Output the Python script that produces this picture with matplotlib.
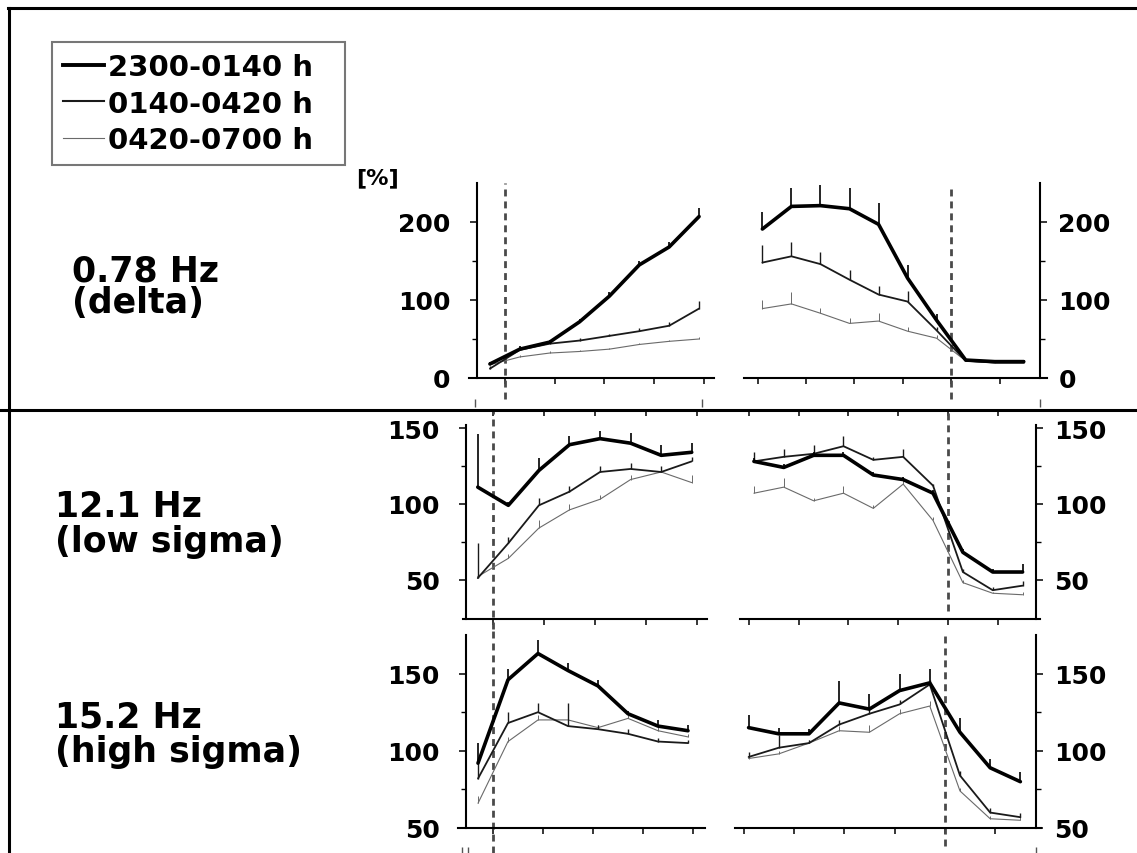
import matplotlib
matplotlib.use('Agg')
import matplotlib.pyplot as plt
from matplotlib.lines import Line2D

W, H = 1137, 854
plt.rcParams['font.family'] = ['DejaVu Sans']
plt.rcParams['font.weight'] = 'bold'

# ---------------- data ----------------
periods = ['2300-0140 h', '0140-0420 h', '0420-0700 h']
band_freqs = ['0.78 Hz', '12.1 Hz', '15.2 Hz']
band_names = ['(delta)', '(low sigma)', '(high sigma)']

x_left = [-0.3, 0.3, 0.9, 1.5, 2.1, 2.7, 3.3, 3.9]
x_right = [-3.9, -3.3, -2.7, -2.1, -1.5, -0.9, -0.3, 0.3, 0.9, 1.5]
ticks_left = [0, 1, 2, 3, 4]
ticks_right = [-4, -3, -2, -1, 0, 1]

# delta 0.78 Hz
delta_left_p1 = [18, 37, 46, 72, 105, 145, 168, 207]
delta_left_p2 = [12, 36, 44, 48, 54, 60, 67, 89]
delta_left_p3 = [17, 27, 32, 34, 37, 43, 47, 50]
delta_left_e1 = [3, 4, 3, 4, 5, 5, 6, 11]
delta_left_e2 = [3, 3, 3, 3, 3, 4, 5, 10]
delta_left_e3 = [2, 2, 2, 2, 2, 2, 2, 3]
delta_right_p1 = [191, 220, 221, 217, 197, 128, 74, 23, 21, 21]
delta_right_p2 = [148, 156, 146, 126, 107, 98, 61, 22, 20, 20]
delta_right_p3 = [89, 95, 83, 70, 73, 60, 51, 22, 19, 19]
delta_right_e1 = [22, 24, 26, 26, 27, 17, 8, 2, 2, 2]
delta_right_e2 = [22, 18, 16, 13, 11, 13, 5, 2, 1, 1]
delta_right_e3 = [11, 15, 7, 7, 10, 6, 4, 1, 1, 1]

# low sigma 12.1 Hz
lsig_left_p1 = [111, 99, 122, 139, 143, 140, 132, 134]
lsig_left_p2 = [51, 74, 99, 108, 121, 123, 121, 128]
lsig_left_p3 = [52, 64, 84, 96, 103, 116, 121, 114]
lsig_left_e1 = [35, 2, 8, 6, 5, 7, 7, 6]
lsig_left_e2 = [23, 4, 5, 4, 4, 4, 4, 3]
lsig_left_e3 = [3, 3, 5, 4, 3, 3, 3, 5]
lsig_right_p1 = [128, 124, 132, 132, 119, 116, 107, 68, 55, 55]
lsig_right_p2 = [128, 131, 133, 138, 129, 131, 112, 55, 43, 46]
lsig_right_p3 = [107, 111, 102, 107, 97, 113, 89, 48, 41, 40]
lsig_right_e1 = [2, 2, 2, 2, 2, 2, 2, 2, 2, 5]
lsig_right_e2 = [6, 5, 6, 7, 2, 5, 1, 2, 2, 3]
lsig_right_e3 = [5, 6, 2, 5, 2, 5, 2, 2, 1, 2]

# high sigma 15.2 Hz
hsig_left_p1 = [92, 146, 163, 152, 142, 124, 116, 113]
hsig_left_p2 = [82, 118, 125, 116, 114, 111, 106, 105]
hsig_left_p3 = [66, 106, 120, 120, 115, 121, 113, 109]
hsig_left_e1 = [13, 7, 9, 5, 4, 2, 4, 4]
hsig_left_e2 = [10, 7, 6, 15, 3, 3, 2, 2]
hsig_left_e3 = [5, 3, 3, 3, 2, 2, 3, 2]
hsig_right_p1 = [115, 111, 111, 131, 127, 139, 144, 112, 89, 80]
hsig_right_p2 = [96, 102, 105, 117, 124, 130, 143, 84, 60, 57]
hsig_right_p3 = [95, 98, 105, 113, 112, 124, 129, 74, 56, 55]
hsig_right_e1 = [8, 4, 3, 14, 10, 11, 9, 9, 6, 6]
hsig_right_e2 = [3, 8, 2, 3, 3, 3, 3, 3, 3, 3]
hsig_right_e3 = [2, 2, 2, 3, 5, 3, 3, 2, 2, 2]

yticks_major = [[0, 100, 200], [50, 100, 150], [50, 100, 150]]
yticks_minor = [[50, 150], [75, 125], [75, 125]]

# ---------------- styles / layout ----------------
styles = [dict(color='black', lw=2.6, elw=1.2),
          dict(color='#1a1a1a', lw=1.3, elw=1.0),
          dict(color='#6a6a6a', lw=0.8, elw=0.7)]

# (left, top, right, bottom) px, xlim, spine x, ylim, dashed (ymin,ymax)
layout = {
    (0, 'L'): dict(box=(469, 184, 714, 379), xlim=(-0.72, 4.2), sx=-0.56, ylim=(0, 250), dash=(-0.108, 1.0)),
    (0, 'R'): dict(box=(744, 184, 1047, 379), xlim=(-4.28, 1.98), sx=1.84, ylim=(0, 250), dash=(-0.108, 0.995)),
    (1, 'L'): dict(box=(463, 426, 707, 620), xlim=(-0.59, 4.2), sx=-0.53, ylim=(24, 152), dash=(-0.052, 1.072)),
    (1, 'R'): dict(box=(740, 426, 1040, 620), xlim=(-4.18, 1.85), sx=1.77, ylim=(24, 152), dash=(0.04, 1.072)),
    (2, 'L'): dict(box=(458, 636, 705, 829), xlim=(-0.70, 4.24), sx=-0.54, ylim=(50, 175), dash=(-0.13, 1.03)),
    (2, 'R'): dict(box=(735, 636, 1041, 829), xlim=(-4.17, 1.91), sx=1.81, ylim=(50, 175), dash=(-0.093, 0.995)),
}

data = {
    (0, 'L'): ([delta_left_p1, delta_left_p2, delta_left_p3], [delta_left_e1, delta_left_e2, delta_left_e3]),
    (0, 'R'): ([delta_right_p1, delta_right_p2, delta_right_p3], [delta_right_e1, delta_right_e2, delta_right_e3]),
    (1, 'L'): ([lsig_left_p1, lsig_left_p2, lsig_left_p3], [lsig_left_e1, lsig_left_e2, lsig_left_e3]),
    (1, 'R'): ([lsig_right_p1, lsig_right_p2, lsig_right_p3], [lsig_right_e1, lsig_right_e2, lsig_right_e3]),
    (2, 'L'): ([hsig_left_p1, hsig_left_p2, hsig_left_p3], [hsig_left_e1, hsig_left_e2, hsig_left_e3]),
    (2, 'R'): ([hsig_right_p1, hsig_right_p2, hsig_right_p3], [hsig_right_e1, hsig_right_e2, hsig_right_e3]),
}

fig = plt.figure(figsize=(W / 100, H / 100), dpi=100)
fig.patch.set_facecolor('white')


def add_ax(box):
    l, t, r, b = box
    return fig.add_axes([l / W, 1 - b / H, (r - l) / W, (b - t) / H])


for (row, side), spec in layout.items():
    ax = add_ax(spec['box'])
    ax.set_facecolor('none')
    xs = x_left if side == 'L' else x_right
    series, errs = data[(row, side)]
    for k in [2, 1, 0]:
        st = styles[k]
        ax.errorbar(xs, series[k], yerr=[[0] * len(xs), errs[k]], color=st['color'],
                    lw=st['lw'], elinewidth=st['elw'], capsize=0, clip_on=False,
                    solid_joinstyle='round', solid_capstyle='round', zorder=3 + (2 - k))
    ax.set_xlim(*spec['xlim'])
    ax.set_ylim(*spec['ylim'])
    ax.axvline(0, ymin=spec['dash'][0], ymax=spec['dash'][1], color='#4a4a4a', lw=2.0,
               ls=(0, (2.5, 1.8)), clip_on=False, zorder=2)
    ax.spines['top'].set_visible(False)
    if side == 'L':
        ax.spines['right'].set_visible(False)
        ax.spines['left'].set_position(('data', spec['sx']))
        ax.yaxis.tick_left()
        ypad = 14
    else:
        ax.spines['left'].set_visible(False)
        ax.spines['right'].set_position(('data', spec['sx']))
        ax.yaxis.tick_right()
        ypad = 8
    for s in ax.spines.values():
        s.set_linewidth(1.5)
    ax.set_xticks(ticks_left if side == 'L' else ticks_right)
    ax.tick_params(axis='x', labelbottom=False, length=4, width=1.1, direction='out')
    ax.set_yticks(yticks_major[row])
    ax.set_yticks(yticks_minor[row], minor=True)
    ax.tick_params(axis='y', which='major', labelsize=18, pad=ypad, length=5, width=1.1,
                   direction='out')
    ax.tick_params(axis='y', which='minor', length=3.5, width=1.0, direction='out')
    for lab in ax.get_yticklabels():
        lab.set_fontweight('bold')

    b = spec['box']
    hpx = b[3] - b[1]
    # scan artefact tick fragments
    if row == 1:
        sec = ax.secondary_xaxis((b[3] - 411) / hpx)
        sec.set_xticks(ticks_left if side == 'L' else ticks_right)
        sec.tick_params(direction='in', length=4, width=1.1, labeltop=False, labelbottom=False)
        for s in sec.spines.values():
            s.set_visible(False)
    if row == 0:
        sec = ax.secondary_xaxis((b[3] - 404) / hpx)
        sec.set_xticks([-0.6, 3.95] if side == 'L' else [1.84])
        sec.tick_params(direction='inout', length=6, width=1.0, labeltop=False, labelbottom=False,
                        color='#555555')
        for s in sec.spines.values():
            s.set_visible(False)
    if row == 2:
        sec = ax.secondary_xaxis((b[3] - 851) / hpx)
        sec.set_xticks([-0.62, -0.5] if side == 'L' else [1.81])
        sec.tick_params(direction='inout', length=4, width=1.0, labeltop=False, labelbottom=False,
                        color='#555555')
        for s in sec.spines.values():
            s.set_visible(False)

# frame lines of the scanned page
fig.add_artist(Line2D([8 / W, 1], [1 - 9 / H, 1 - 9 / H], transform=fig.transFigure, color='black', lw=2.2))
fig.add_artist(Line2D([9 / W, 9 / W], [1 - 9 / H, 0], transform=fig.transFigure, color='black', lw=2.2))
fig.add_artist(Line2D([0, 1], [1 - 411 / H, 1 - 411 / H], transform=fig.transFigure, color='black', lw=2.2))

# row labels
label_pos = [(72, 282, 313), (55, 517, 552), (55, 728, 762)]
for (x0, y1, y2), f, n in zip(label_pos, band_freqs, band_names):
    fig.text(x0 / W, 1 - y1 / H, f, fontsize=25, fontweight='bold', va='baseline', ha='left')
    fig.text(x0 / W, 1 - y2 / H, n, fontsize=25, fontweight='bold', va='baseline', ha='left')

fig.text(377 / W, 1 - 178 / H, '[%]', fontsize=16, fontweight='bold', ha='center', va='center')

# legend
handles = [Line2D([], [], color=st['color'], lw=[2.8, 1.5, 0.8][i]) for i, st in enumerate(styles)]
leg = fig.legend(handles, periods, loc='upper left',
                 bbox_to_anchor=(52 / W, 1 - 164 / H, 293 / W, 121 / H), mode='expand',
                 frameon=True, fancybox=False, edgecolor='#555555',
                 prop=dict(weight='bold', size=21), handlelength=1.4, handletextpad=0.15,
                 labelspacing=0.29, borderpad=0.38, borderaxespad=0)
leg.get_frame().set_linewidth(1.5)

fig.savefig('out.png', dpi=100, facecolor='white')
